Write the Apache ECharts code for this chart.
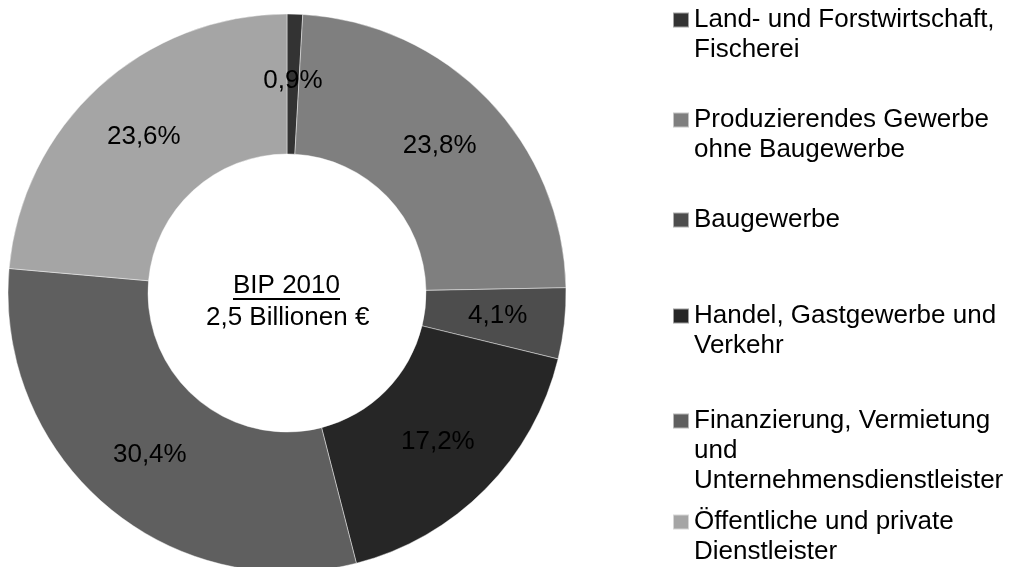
<!DOCTYPE html>
<html>
<head>
<meta charset="utf-8">
<script src="https://cdn.jsdelivr.net/npm/echarts@6/dist/echarts.min.js"></script>
<style>
	html, body {margin: 0; padding: 0; background: #fff;}
	#chart {width: 1012px; height: 567px;}
</style>
</head>
<body>
<div id="chart"></div>
<script>
// Anteile am BIP 2010 (%)
var names = [
	'Land- und Forstwirtschaft,\nFischerei',
	'Produzierendes Gewerbe\nohne Baugewerbe',
	'Baugewerbe',
	'Handel, Gastgewerbe und\nVerkehr',
	'Finanzierung, Vermietung\nund\nUnternehmensdienstleister',
	'Öffentliche und private\nDienstleister'
];
var values = [0.9, 23.8, 4.1, 17.2, 30.4, 23.6];
var colors = ['#333333', '#7f7f7f', '#4d4d4d', '#262626', '#5f5f5f', '#a5a5a5'];
var centerTitle = 'BIP 2010';
var centerSub = '2,5 Billionen €';

var font = 'Liberation Sans, Arial, sans-serif';
var cx = 287, cy = 293;
var lineH = 30;
// Mitte des Symbols je Legendeneintrag (px von oben)
var legendY = [20, 120, 220, 316, 421, 522];

var myChart = echarts.init(document.getElementById('chart'));

var pieData = [];
for (var i = 0; i < names.length; i++) {
	pieData.push({name: names[i], value: values[i], itemStyle: {color: colors[i]}});
}

// erste Zeile soll auf Hoehe des Symbols stehen:
// leere Zeilen voranstellen, damit der Block mittig bleibt
function legendText(name){
	var n = name.split('\n').length;
	var pre = '';
	for (var k = 1; k < n; k++) pre += '\n';
	return pre + name;
}

// eine Legende pro Eintrag
var legends = [];
for (var i = 0; i < names.length; i++) {
	var n = names[i].split('\n').length;
	legends.push({
		data: [names[i]],
		orient: 'vertical',
		left: 672,
		// Textblock (2n-1 Zeilen) ist um das Symbol zentriert
		top: legendY[i] - (2 * n - 1) * lineH / 2,
		padding: 0,
		itemWidth: 16,
		itemHeight: 15,
		icon: 'rect',
		selectedMode: false,
		formatter: legendText,
		textStyle: {
			color: '#000',
			fontSize: 26,
			fontFamily: font,
			lineHeight: lineH
		}
	});
}

var option = {
	animation: false,
	backgroundColor: '#fff',
	legend: legends,
	graphic: [
		{
			type: 'text',
			left: cx - 54, top: cy - 20,
			style: {text: centerTitle, fill: '#000', font: '26px ' + font}
		},
		{
			type: 'line',
			shape: {x1: cx - 54, y1: cy + 6, x2: cx + 53, y2: cy + 6},
			style: {stroke: '#000', lineWidth: 2}
		},
		{
			type: 'text',
			left: cx - 81, top: cy + 12,
			style: {text: centerSub, fill: '#000', font: '26px ' + font}
		}
	],
	series: [{
		type: 'pie',
		center: [cx, cy],
		radius: [139, 279],
		startAngle: 90,
		clockwise: true,
		avoidLabelOverlap: false,
		emphasis: {disabled: true},
		itemStyle: {
			borderColor: 'rgba(255,255,255,0.55)',
			borderWidth: 0.8
		},
		label: {
			show: true,
			position: 'inside',
			color: '#000',
			fontSize: 26,
			fontFamily: font,
			formatter: function (p) {
				return p.value.toFixed(1).replace('.', ',') + '%';
			}
		},
		labelLine: {show: false},
		data: pieData
	}]
};

myChart.setOption(option);
window.addEventListener("resize", function(){
	myChart.resize();
});
</script>
</body>
</html>
